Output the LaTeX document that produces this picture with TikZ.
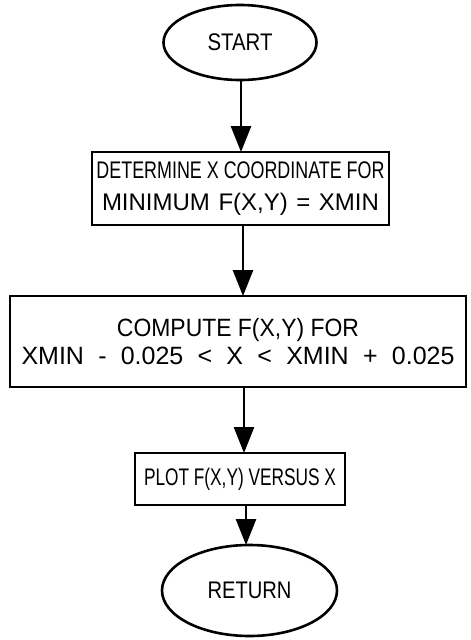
\documentclass[tikz,border=0pt]{standalone}
\usepackage{fontspec}
\setmainfont{Liberation Sans}
\usetikzlibrary{shapes.geometric,arrows.meta}
\newcommand\fitw[2]{\resizebox{#1}{\height}{#2}}
\newcommand\spreadw[2]{\makebox[#1][s]{#2}}
\begin{document}
\begin{tikzpicture}[x=1pt,y=-1pt,
  every node/.style={inner sep=0pt, outer sep=0pt},
  term/.style={draw, ellipse, line width=2.6pt},
  proc/.style={draw, rectangle, line width=2.6pt, align=center},
  arr/.style={line width=2.6pt, -{Triangle[length=26pt,width=20pt]}}]
\useasboundingbox (0,0) rectangle (471,640);
\node[term, minimum width=153pt, minimum height=75pt] (start) at (240,42.5)
  {\fontsize{24}{26}\selectfont\fitw{65pt}{START}};
\node[proc, minimum width=297pt, minimum height=73pt,
  font=\fontsize{24}{32}\selectfont] (box1) at (240.5,188.5)
  {\fitw{288pt}{DETERMINE X COORDINATE FOR}\\
   \spreadw{277pt}{MINIMUM F(X,Y) = XMIN}};
\node[proc, minimum width=456pt, minimum height=91pt,
  font=\fontsize{25}{28}\selectfont] (box2) at (238,341.5)
  {\fitw{242pt}{COMPUTE F(X,Y) FOR}\\
   \spreadw{433pt}{XMIN - 0.025 < X < XMIN + 0.025}};
\node[proc, minimum width=210pt, minimum height=52pt,
  font=\fontsize{24}{26}\selectfont] (box3) at (240,479)
  {\fitw{192pt}{PLOT F(X,Y) VERSUS X}};
\node[term, minimum width=175pt, minimum height=91pt] (ret) at (249.5,590.5)
  {\fontsize{24}{26}\selectfont\fitw{84pt}{RETURN}};
\coordinate (c1) at (241,0);
\coordinate (c2) at (243,0);
\coordinate (c3) at (244,0);
\coordinate (c4) at (246,0);
\draw[arr] (c1 |- start.south) -- (c1 |- box1.north);
\draw[arr] (c2 |- box1.south) -- (c2 |- box2.north);
\draw[arr] (c3 |- box2.south) -- (c3 |- box3.north);
\draw[arr] (c4 |- box3.south) -- (c4 |- ret.north);
\end{tikzpicture}
\end{document}
